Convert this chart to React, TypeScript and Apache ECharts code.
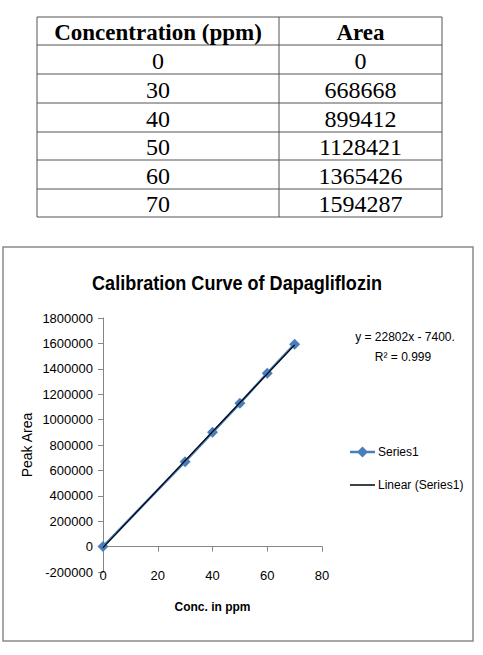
import React, { useEffect, useRef } from "react";
import * as echarts from "echarts";

const concentrations = [0, 30, 40, 50, 60, 70];
const areas = [0, 668668, 899412, 1128421, 1365426, 1594287];
const tableHeaders = ["Concentration (ppm)", "Area"];
const trendX = [0, 70];
const trendY = [-7400, 1588740];
const seriesNames = ["Series1", "Linear (Series1)"];
const equationText = "y = 22802x - 7400.";
const r2Text = "R\u00B2 = 0.999";
const xTicks = { min: 0, max: 80, interval: 20 };
const yTicks = { min: -200000, max: 1800000, interval: 200000 };

const chartFont = "'Liberation Sans', Arial, sans-serif";
const tableFont = "'Liberation Serif', 'Times New Roman', serif";
const blue = "#4A7EBB";

function buildTable(): any[] {
  const left = 37;
  const mid = 279;
  const right = 442;
  const rowLines = [17, 45, 74, 103, 132, 160, 189, 217];
  const els: any[] = [];
  const stroke = "#555";
  rowLines.forEach((y) => {
    els.push({ type: "line", shape: { x1: left, y1: y, x2: right, y2: y }, style: { stroke, lineWidth: 1 } });
  });
  [left, mid, right].forEach((x) => {
    els.push({ type: "line", shape: { x1: x, y1: rowLines[0], x2: x, y2: rowLines[rowLines.length - 1] }, style: { stroke, lineWidth: 1 } });
  });
  const c1 = (left + mid) / 2;
  const c2 = (mid + right) / 2;
  const rowCenter = (i: number) => (rowLines[i] + rowLines[i + 1]) / 2 + 1;
  els.push({ type: "text", x: c1, y: rowCenter(0), style: { text: tableHeaders[0], fill: "#000", font: `bold 23px ${tableFont}`, align: "center", verticalAlign: "middle" } });
  els.push({ type: "text", x: c2, y: rowCenter(0), style: { text: tableHeaders[1], fill: "#000", font: `bold 23px ${tableFont}`, align: "center", verticalAlign: "middle" } });
  concentrations.forEach((c, i) => {
    els.push({ type: "text", x: c1, y: rowCenter(i + 1), style: { text: String(c), fill: "#000", font: `24px ${tableFont}`, align: "center", verticalAlign: "middle" } });
    els.push({ type: "text", x: c2, y: rowCenter(i + 1), style: { text: String(areas[i]), fill: "#000", font: `24px ${tableFont}`, align: "center", verticalAlign: "middle" } });
  });
  return els;
}

function buildLegend(): any[] {
  const x0 = 350;
  const x1 = 375;
  const y1 = 452;
  const y2 = 485;
  const cx = (x0 + x1) / 2;
  const d = 5.5;
  return [
    { type: "line", shape: { x1: x0, y1, x2: x1, y2: y1 }, style: { stroke: blue, lineWidth: 2.5 } },
    { type: "polygon", shape: { points: [[cx, y1 - d], [cx + d, y1], [cx, y1 + d], [cx - d, y1]] }, style: { fill: blue } },
    { type: "text", x: 378, y: y1, style: { text: seriesNames[0], fill: "#000", font: `12px ${chartFont}`, align: "left", verticalAlign: "middle" } },
    { type: "line", shape: { x1: x0, y1: y2, x2: x1, y2: y2 }, style: { stroke: "#000", lineWidth: 1.5 } },
    { type: "text", x: 378, y: y2, style: { text: seriesNames[1], fill: "#000", font: `12px ${chartFont}`, align: "left", verticalAlign: "middle" } },
  ];
}

export default function App() {
  const ref = useRef<HTMLDivElement>(null);
  useEffect(() => {
    if (!ref.current) return;
    const chart = echarts.init(ref.current, null, { renderer: "svg" });
    const option: any = {
      animation: false,
      backgroundColor: "#fff",
      textStyle: { fontFamily: chartFont },
      graphic: [
        ...buildTable(),
        { type: "rect", shape: { x: 3, y: 247, width: 470, height: 394 }, style: { fill: "none", stroke: "#8a8a8a", lineWidth: 1.5 } },
        { type: "text", x: 237, y: 282, scaleX: 0.86, style: { text: "Calibration Curve of Dapagliflozin", fill: "#000", font: `bold 21px ${chartFont}`, align: "center", verticalAlign: "middle" } },
        { type: "text", x: 405, y: 337, style: { text: equationText, fill: "#000", font: `12px ${chartFont}`, align: "center", verticalAlign: "middle" } },
        { type: "text", x: 403, y: 357, style: { text: r2Text, fill: "#000", font: `12px ${chartFont}`, align: "center", verticalAlign: "middle" } },
        ...buildLegend(),
      ],
      grid: { left: 103, top: 318, right: 161, bottom: 83, containLabel: false },
      xAxis: {
        type: "value",
        min: xTicks.min,
        max: xTicks.max,
        interval: xTicks.interval,
        name: "Conc. in ppm",
        nameLocation: "middle",
        nameGap: 29,
        nameTextStyle: { fontSize: 12, fontWeight: "bold", color: "#000" },
        axisLine: { onZero: true, lineStyle: { color: "#868686", width: 1 } },
        axisTick: { show: true, inside: false, length: 5, lineStyle: { color: "#868686" } },
        axisLabel: { margin: -3, fontSize: 13, color: "#000" },
        splitLine: { show: false },
      },
      yAxis: {
        type: "value",
        min: yTicks.min,
        max: yTicks.max,
        interval: yTicks.interval,
        name: "Peak Area",
        nameLocation: "middle",
        nameGap: 69,
        nameRotate: 90,
        nameTextStyle: { fontSize: 14, color: "#000" },
        axisLine: { show: true, onZero: false, lineStyle: { color: "#868686", width: 1 } },
        axisTick: { show: true, inside: false, length: 5, lineStyle: { color: "#868686" } },
        axisLabel: { margin: 10, fontSize: 13, color: "#000", formatter: (v: number) => String(v) },
        splitLine: { show: false },
      },
      series: [
        {
          name: seriesNames[0],
          type: "line",
          data: concentrations.map((c, i) => [c, areas[i]]),
          symbol: "diamond",
          symbolSize: 11,
          itemStyle: { color: blue },
          lineStyle: { color: blue, width: 2.5 },
          z: 2,
        },
        {
          name: seriesNames[1],
          type: "line",
          data: trendX.map((x, i) => [x, trendY[i]]),
          symbol: "none",
          itemStyle: { color: "#000" },
          lineStyle: { color: "#000", width: 1.2 },
          z: 3,
        },
      ],
    };
    chart.setOption(option);
    return () => chart.dispose();
  }, []);
  return (
    <div
      ref={ref}
      style={{ position: "fixed", left: 0, top: 0, width: 483, height: 655, background: "#fff" }}
    />
  );
}
